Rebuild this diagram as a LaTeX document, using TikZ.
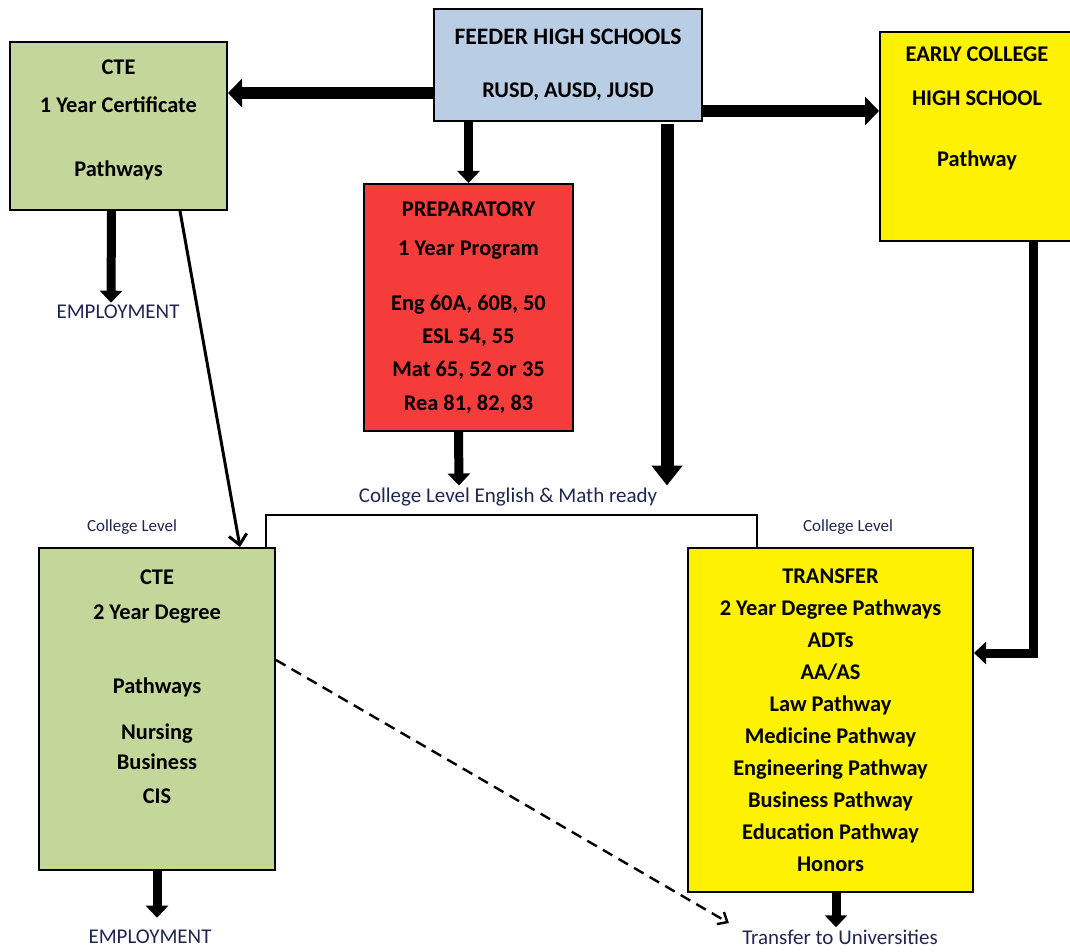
\documentclass[tikz,border=0pt]{standalone}
\usepackage{fontspec}
\setmainfont{Carlito}
\usepackage{tikz}
\usetikzlibrary{arrows.meta}
\definecolor{feederblue}{HTML}{B9CDE5}
\definecolor{ctegreen}{HTML}{C4D79B}
\definecolor{prepred}{HTML}{F43C3A}
\definecolor{labelnavy}{HTML}{1F2650}

\begin{document}
\begin{tikzpicture}[x=0.5pt, y=-0.5pt,
  box/.style={draw, line width=1pt, align=center, inner sep=0pt,
    font=\fontsize{11.2}{16}\selectfont\bfseries},
  lbl/.style={text=labelnavy, inner sep=1pt, font=\fontsize{10.5}{12}\selectfont},
  tinylbl/.style={text=labelnavy, inner sep=1pt, font=\fontsize{8.5}{10}\selectfont},
  heavyarr/.style={line width=6pt, -{Triangle[length=7pt,width=14pt]}},
  midarr/.style={line width=4.5pt, -{Triangle[length=6pt,width=11pt]}},
  thinarr/.style={line width=1.5pt, -{Straight Barb[length=5pt,width=9pt]}},
  dasharr/.style={line width=1.2pt, dash pattern=on 5.5pt off 3.5pt,
    -{Straight Barb[length=4pt,width=7pt]}}
]
  \useasboundingbox (0,0) rectangle (1070,952);

  % Boxes
  \node[box, fill=feederblue, minimum width=134pt, minimum height=56pt] (feeder) at (568,65)
    {\fontsize{11.8}{16}\selectfont FEEDER HIGH SCHOOLS\\[10.5pt]RUSD, AUSD, JUSD};
  \node[box, fill=ctegreen, minimum width=108.5pt, minimum height=84pt] (cte1) at (118.5,126)
    {CTE\\[3pt]1 Year Certificate\\[16pt]Pathways\\[-8pt]~};
  \node[box, fill=yellow, minimum width=97pt, minimum height=104.5pt] (early) at (977,136.5)
    {EARLY COLLEGE\\[6pt]HIGH SCHOOL\\[14.5pt]Pathway\\[14pt]~};
  \node[box, fill=prepred, minimum width=104.5pt, minimum height=123.5pt] (prep) at (468.5,307.5)
    {PREPARATORY\\[3.5pt]1 Year Program\\[11.5pt]Eng 60A, 60B, 50\\[0.5pt]ESL 54, 55\\[0.5pt]Mat 65, 52 or 35\\[1pt]Rea 81, 82, 83};
  \node[box, fill=ctegreen, minimum width=118pt, minimum height=161pt] (cte2) at (157,709)
    {CTE\\[1.5pt]2 Year Degree\\[21pt]Pathways\\[7pt]Nursing\\[-1pt]Business\\[1pt]CIS\\[6pt]~};
  \node[box, fill=yellow, minimum width=142.5pt, minimum height=172pt] (transfer) at (830.5,720)
    {TRANSFER\\2 Year Degree Pathways\\ADTs\\AA/AS\\Law Pathway\\Medicine Pathway\\
     Engineering Pathway\\Business Pathway\\Education Pathway\\Honors};

  % Labels
  \node[lbl] (emp1) at (118,312) {EMPLOYMENT};
  \node[lbl] (ready) at (508,497) {College Level English \& Math ready};
  \node[tinylbl] (lvl1) at (132,527) {College Level};
  \node[tinylbl] (lvl2) at (848,527) {College Level};
  \node[lbl] (emp2) at (150,937) {EMPLOYMENT};
  \node[lbl] (univ) at (840,937) {Transfer to Universities};

  % Arrows
  \draw[heavyarr] ([yshift=-14pt]feeder.west) -- ([yshift=16.5pt]cte1.east);
  \draw[heavyarr] ([yshift=-23pt]feeder.east) -- ([yshift=12.75pt]early.west);
  \draw[midarr] (prep.north |- feeder.south) -- (prep.north);
  \draw[line width=6.5pt, -{Triangle[length=10pt,width=15pt]}]
    ([xshift=49.5pt,yshift=-1pt]feeder.south) -- ([xshift=79.5pt]ready.north);
  \draw[midarr] ([xshift=-5pt]prep.south) -- ([xshift=-24.5pt]ready.north);
  \draw[line width=1pt] ([xshift=-5pt]cte2.north east) -- ++(0,-32)
    -| ([xshift=35pt]transfer.north west);
  \draw[midarr] ([xshift=-3.5pt]cte1.south) -- ([xshift=-3.5pt]emp1.north);
  \draw[thinarr] ([xshift=30.75pt]cte1.south) -- ([xshift=41.5pt]cte2.north);
  \draw[midarr] ([xshift=28pt]early.south) |- ([yshift=33.5pt]transfer.east);
  \draw[midarr, shorten >=5pt] (cte2.south) -- (cte2.south |- emp2.north);
  \draw[midarr] ([xshift=2.75pt]transfer.south) -- ([xshift=-2pt]univ.north);
  \draw[dasharr] ([yshift=24.5pt]cte2.east) -- ([xshift=-5.5pt,yshift=7pt]univ.west);
\end{tikzpicture}
\end{document}
